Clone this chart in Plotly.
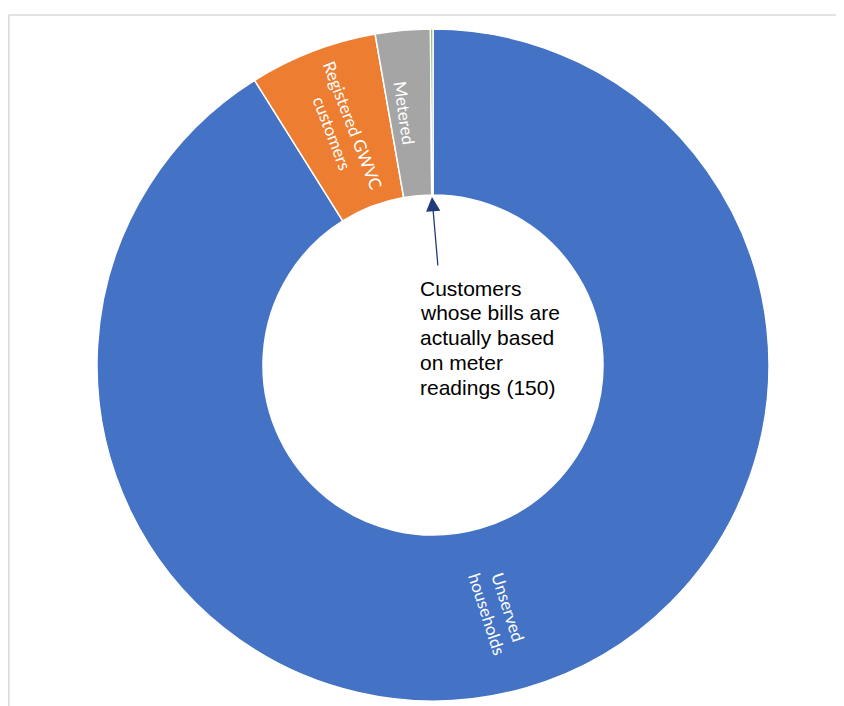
import plotly.graph_objects as go

categories = ["Unserved households", "Registered GWVC customers", "Metered",
              "Customers whose bills are actually based on meter readings"]
slice_text = ["", "Registered GWVC<br>customers", "", ""]
values = [114000, 7700, 3300, 150]
colors = ["#4472C4", "#ED7D31", "#A5A5A5", "#70AD47"]
callout_lines = ["Customers", "whose bills are", "actually based", "on meter", "readings (150)"]

# page is offset by the 8px body margin; coordinates below are in figure pixels
W, H = 836, 698
cx, cy, R = 425, 357, 336

fig = go.Figure(go.Pie(
    labels=categories,
    values=values,
    text=slice_text,
    textinfo="text",
    textposition="inside",
    insidetextorientation="radial",
    insidetextfont=dict(family="Lato", size=17, color="white"),
    marker=dict(colors=colors, line=dict(color="white", width=1.5)),
    hole=0.506,
    sort=False,
    direction="clockwise",
    rotation=0,
    showlegend=False,
    hoverinfo="label+value",
    domain=dict(x=[(cx - R) / W, (cx + R) / W], y=[1 - (cy + R) / H, 1 - (cy - R) / H]),
))

# frame border (partially cropped)
fig.add_shape(type="line", xref="paper", yref="paper", x0=0.8 / W, x1=1.0, y0=1 - 7 / H, y1=1 - 7 / H,
              line=dict(color="#D9D9D9", width=1.5))
fig.add_shape(type="line", xref="paper", yref="paper", x0=0.8 / W, x1=0.8 / W, y0=0, y1=1 - 7 / H,
              line=dict(color="#D9D9D9", width=1.5))

# slice labels placed along the radius
fig.add_annotation(xref="paper", yref="paper", x=490 / W, y=1 - 602 / H, showarrow=False,
                   xanchor="center", yanchor="middle",
                   text=categories[0].replace(" ", "<br>"), textangle=72,
                   font=dict(family="Lato", size=17, color="white"))
fig.add_annotation(xref="paper", yref="paper", x=397 / W, y=1 - 105 / H, showarrow=False,
                   xanchor="center", yanchor="middle",
                   text=categories[2], textangle=82,
                   font=dict(family="Lato", size=17, color="white"))

# arrow
fig.add_annotation(xref="paper", yref="paper", x=424 / W, y=1 - 189 / H,
                   ax=6, ay=70, axref="pixel", ayref="pixel",
                   text="", showarrow=True, arrowhead=2, arrowsize=2.2, arrowwidth=1.3,
                   arrowcolor="#203A7C")
for i, line in enumerate(callout_lines):
    fig.add_annotation(xref="paper", yref="paper", x=410 / W, y=1 - (280 + 24.75 * i) / H,
                       xanchor="left", yanchor="middle", align="left", showarrow=False,
                       text=line,
                       font=dict(family="Liberation Sans, Arial", size=21, color="black"))

fig.update_layout(width=W, height=H, margin=dict(l=0, r=0, t=0, b=0),
                  paper_bgcolor="white", plot_bgcolor="white")
fig.write_html("out.html")
